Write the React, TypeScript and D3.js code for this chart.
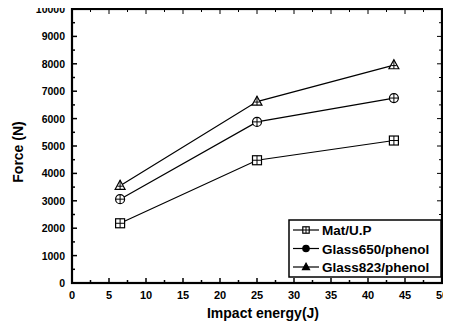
// Impact force vs impact energy line chart
import { useEffect, useRef } from 'react';
import * as d3 from 'd3';

const energies = [6.5, 25, 43.5];
const matUP = [2180, 4480, 5200];
const glass650 = [3060, 5880, 6750];
const glass823 = [3550, 6620, 7950];
const seriesNames = ['Mat/U.P', 'Glass650/phenol', 'Glass823/phenol'];
const seriesShapes = ['square', 'circle', 'triangle'];
const xTicks = [0, 5, 10, 15, 20, 25, 30, 35, 40, 45, 50];
const yTicks = [0, 1000, 2000, 3000, 4000, 5000, 6000, 7000, 8000, 9000, 10000];

const W = 451;
const H = 331;
const margin = { top: 9, right: 9, bottom: 48, left: 72 };
const font = "'Liberation Sans', Arial, sans-serif";

const App = () => {
  const svgRef = useRef<SVGSVGElement>(null);

  useEffect(() => {
    if (!svgRef.current) return;
    const svg = d3.select(svgRef.current);
    svg.selectAll('*').remove();

    const innerW = W - margin.left - margin.right;
    const innerH = H - margin.top - margin.bottom;
    const g = svg.append('g').attr('transform', `translate(${margin.left},${margin.top})`);

    const x = d3.scaleLinear().domain([0, 50]).range([0, innerW]);
    const y = d3.scaleLinear().domain([0, 10000]).range([innerH, 0]);

    // frame
    g.append('rect')
      .attr('width', innerW).attr('height', innerH)
      .attr('fill', 'none').attr('stroke', '#000').attr('stroke-width', 2.2);

    // inward ticks, major + minor
    const xMinor = d3.range(0, 50.01, 2.5);
    const yMinor = d3.range(0, 10000.1, 500);
    xMinor.forEach((v, i) => {
      const len = i % 2 === 0 ? 5 : 3;
      g.append('line').attr('x1', x(v)).attr('x2', x(v))
        .attr('y1', innerH).attr('y2', innerH - len).attr('stroke', '#000').attr('stroke-width', 1.5);
      g.append('line').attr('x1', x(v)).attr('x2', x(v))
        .attr('y1', 0).attr('y2', len).attr('stroke', '#000').attr('stroke-width', 1);
    });
    yMinor.forEach((v, i) => {
      const len = i % 2 === 0 ? 5 : 3;
      g.append('line').attr('x1', 0).attr('x2', len)
        .attr('y1', y(v)).attr('y2', y(v)).attr('stroke', '#000').attr('stroke-width', 1.5);
      g.append('line').attr('x1', innerW).attr('x2', innerW - len)
        .attr('y1', y(v)).attr('y2', y(v)).attr('stroke', '#000').attr('stroke-width', 1);
    });

    // tick labels
    g.selectAll('.xl').data(xTicks).enter().append('text')
      .attr('x', d => x(d)).attr('y', innerH + 16)
      .attr('text-anchor', 'middle')
      .style('font-family', font).style('font-size', '11px').style('font-weight', 'bold')
      .text(d => d);
    g.selectAll('.yl').data(yTicks).enter().append('text')
      .attr('x', -7).attr('y', d => y(d) + 4)
      .attr('text-anchor', 'end')
      .style('font-family', font).style('font-size', '10.5px').style('font-weight', 'bold')
      .text(d => d);

    // axis titles
    svg.append('text')
      .attr('x', margin.left + innerW / 2 + 6).attr('y', H - 13)
      .attr('text-anchor', 'middle')
      .style('font-family', font).style('font-size', '14px').style('font-weight', 'bold')
      .text('Impact energy(J)');
    svg.append('text')
      .attr('transform', `translate(23,${margin.top + innerH / 2 + 6}) rotate(-90)`)
      .attr('text-anchor', 'middle')
      .style('font-family', font).style('font-size', '14px').style('font-weight', 'bold')
      .text('Force (N)');

    const drawMarker = (sel: any, shape: string, cx: number, cy: number, r: number, filled: boolean) => {
      const fill = filled ? '#000' : '#fff';
      if (shape === 'square') {
        sel.append('rect').attr('x', cx - r).attr('y', cy - r).attr('width', 2 * r).attr('height', 2 * r)
          .attr('fill', fill).attr('stroke', '#000').attr('stroke-width', 1.2);
        sel.append('line').attr('x1', cx - r).attr('x2', cx + r).attr('y1', cy).attr('y2', cy).attr('stroke', filled ? '#fff' : '#000');
        sel.append('line').attr('x1', cx).attr('x2', cx).attr('y1', cy - r).attr('y2', cy + r).attr('stroke', filled ? '#fff' : '#000');
      } else if (shape === 'circle') {
        sel.append('circle').attr('cx', cx).attr('cy', cy).attr('r', r)
          .attr('fill', fill).attr('stroke', '#000').attr('stroke-width', 1.2);
        if (!filled) {
          sel.append('line').attr('x1', cx - r).attr('x2', cx + r).attr('y1', cy).attr('y2', cy).attr('stroke', '#000');
          sel.append('line').attr('x1', cx).attr('x2', cx).attr('y1', cy - r).attr('y2', cy + r).attr('stroke', '#000');
        }
      } else {
        const pts = [[cx, cy - r * 1.2], [cx + r * 1.1, cy + r * 0.8], [cx - r * 1.1, cy + r * 0.8]];
        sel.append('polygon').attr('points', pts.map(p => p.join(',')).join(' '))
          .attr('fill', fill).attr('stroke', '#000').attr('stroke-width', 1.2);
        if (!filled) {
          sel.append('line').attr('x1', cx).attr('x2', cx).attr('y1', cy - r * 1.2).attr('y2', cy + r * 0.8).attr('stroke', '#000');
          sel.append('line').attr('x1', cx - r * 0.6).attr('x2', cx + r * 0.6).attr('y1', cy + r * 0.1).attr('y2', cy + r * 0.1).attr('stroke', '#000');
        }
      }
    };

    const allSeries = [matUP, glass650, glass823];
    const line = d3.line<number>().x((_, i) => x(energies[i])).y(d => y(d));
    allSeries.forEach((vals, si) => {
      g.append('path').datum(vals)
        .attr('d', line).attr('fill', 'none').attr('stroke', '#000').attr('stroke-width', 1.2);
      vals.forEach((v, i) => drawMarker(g, seriesShapes[si], x(energies[i]), y(v), 4.5, false));
    });

    // legend
    const lg = svg.append('g').attr('transform', 'translate(289,220)');
    lg.append('rect').attr('width', 152).attr('height', 57)
      .attr('fill', '#fff').attr('stroke', '#000').attr('stroke-width', 1.5);
    seriesNames.forEach((name, i) => {
      const ry = 10 + i * 18.5;
      lg.append('line').attr('x1', 4).attr('x2', 30).attr('y1', ry).attr('y2', ry).attr('stroke', '#000').attr('stroke-width', 1.2);
      drawMarker(lg, seriesShapes[i], 17, ry, 3.2, i > 0);
      lg.append('text').attr('x', 33).attr('y', ry + 5)
        .style('font-family', font).style('font-size', '13.5px').style('font-weight', 'bold')
        .text(name);
    });
  }, []);

  return (
    <div style={{ margin: -8 }}>
      <svg ref={svgRef} width={W} height={H} style={{ display: 'block', background: '#fff' }} />
    </div>
  );
};

export default App;
